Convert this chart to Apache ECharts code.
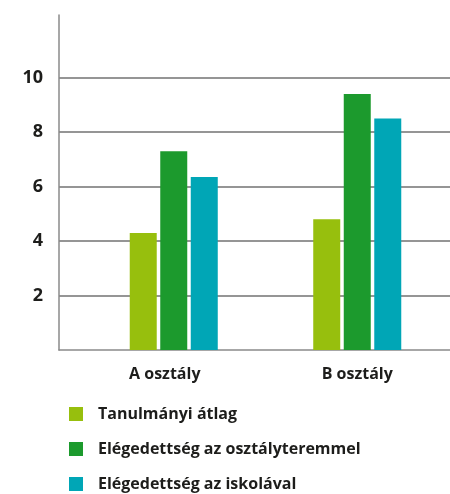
<!DOCTYPE html>
<html>
<head>
<meta charset="utf-8">
<script src="https://cdn.jsdelivr.net/npm/echarts@6/dist/echarts.min.js"></script>
<style>
  html, body { margin: 0; padding: 0; background: #fff; }
  #main-chart { width: 450px; height: 494px; }
</style>
</head>
<body>
<div id="main-chart"></div>
<script>
const categories = ['A osztály', 'B osztály']
const seriesNames = ['Tanulmányi átlag', 'Elégedettség az osztályteremmel', 'Elégedettség az iskolával']
const atlag = [4.3, 4.8]
const osztalyterem = [7.3, 9.4]
const iskolaval = [6.35, 8.5]
const yLabels = [2, 4, 6, 8, 10]

const Y_MAX = 12.3
const FONT = '"Open Sans", sans-serif'
const TEXT = '#1d1d1b'
const GRID_COLOR = '#727272'
const colors = ['#97bf0d', '#1c9a2d', '#00a6b6']

const chart = echarts.init(document.getElementById('main-chart'))

const values = [atlag, osztalyterem, iskolaval]
const series = seriesNames.map((name, i) => ({
  name: name,
  type: 'bar',
  xAxisIndex: 1,
  yAxisIndex: 1,
  barWidth: 27,
  barGap: '13%',
  itemStyle: { color: colors[i] },
  data: values[i]
}))

chart.setOption({
  animation: false,
  color: colors,
  textStyle: { fontFamily: FONT },
  grid: [
    { left: 59, right: 0, top: 15, bottom: 144 },
    { left: 82, right: 1, top: 15, bottom: 144 }
  ],
  xAxis: [
    {
      gridIndex: 0,
      type: 'category',
      data: categories,
      axisLine: { show: true, lineStyle: { color: '#8a8a8a', width: 1.5 } },
      axisTick: { show: false },
      axisLabel: { show: false }
    },
    {
      gridIndex: 1,
      type: 'category',
      data: categories,
      axisLine: { show: false },
      axisTick: { show: false },
      axisLabel: {
        margin: 16,
        formatter: (v, idx) => idx === 0 ? '{a|' + v + '}' : '{b|' + v + '}',
        rich: {
          a: { fontFamily: FONT, fontSize: 16, fontWeight: 700, color: TEXT, padding: [0, 18, 0, 0] },
          b: { fontFamily: FONT, fontSize: 16, fontWeight: 700, color: TEXT }
        }
      }
    }
  ],
  yAxis: [
    {
      gridIndex: 0,
      type: 'value',
      min: 0,
      max: Y_MAX,
      interval: 2,
      axisLine: { show: true, lineStyle: { color: '#8a8a8a', width: 1.5 } },
      axisTick: { show: false },
      axisLabel: {
        margin: 16,
        fontFamily: FONT,
        fontSize: 18,
        fontWeight: 700,
        color: TEXT,
        showMaxLabel: false,
        formatter: v => yLabels.includes(v) ? String(v) : ''
      },
      splitLine: {
        show: true,
        showMinLine: true,
        showMaxLine: false,
        lineStyle: {
          width: 1.5,
          color: ['rgba(0,0,0,0)', GRID_COLOR, GRID_COLOR, GRID_COLOR, GRID_COLOR, GRID_COLOR, 'rgba(0,0,0,0)', 'rgba(0,0,0,0)']
        }
      }
    },
    {
      gridIndex: 1,
      type: 'value',
      min: 0,
      max: Y_MAX,
      interval: 2,
      show: false,
      splitLine: { show: false }
    }
  ],
  legend: {
    orient: 'vertical',
    left: 69,
    top: 406,
    height: 88,
    padding: 0,
    icon: 'rect',
    itemWidth: 14,
    itemHeight: 14,
    itemGap: 19,
    data: seriesNames,
    textStyle: {
      fontFamily: FONT,
      fontSize: 16,
      fontWeight: 700,
      color: TEXT,
      lineHeight: 16,
      padding: [0, 0, 0, 10]
    }
  },
  series: series
})
</script>
</body>
</html>
